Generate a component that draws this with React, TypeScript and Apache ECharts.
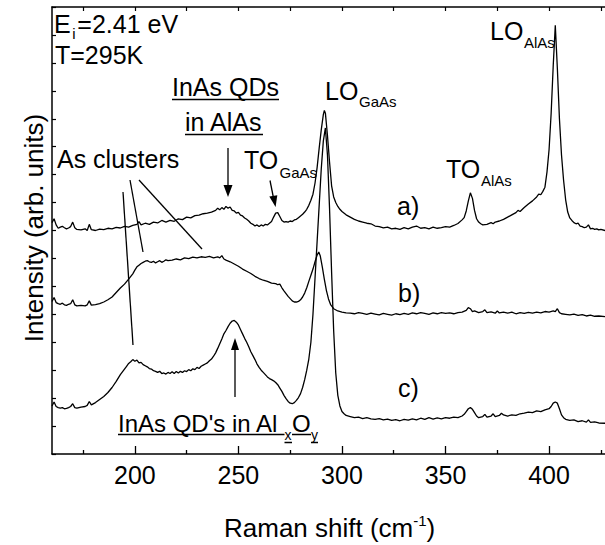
import React, { useEffect, useRef } from "react";
import * as echarts from "echarts";

// Raman spectra (x: Raman shift in cm^-1, y: offset intensity, arb. units)
const spectrumA: number[][] = [
  [160, 8.28], [161, 8.42], [162, 8.2], [163, 8.08], [164, 8.12], [165, 8.15], [166, 8.1], [167, 8.06], [168, 8.09], [169, 8.14],
  [170, 8.3], [171, 8.1], [172, 8.04], [174, 8.02], [176, 8.06], [177, 8.0], [178, 8.22], [179, 8.03], [181, 8.0], [183, 8.05],
  [185, 8.03], [187, 8.08], [189, 8.06], [191, 8.11], [193, 8.09], [195, 8.15], [197, 8.12], [199, 8.18], [201, 8.22], [202, 8.32],
  [203, 8.2], [205, 8.26], [207, 8.22], [209, 8.3], [211, 8.27], [213, 8.36], [215, 8.3], [217, 8.36], [219, 8.33], [221, 8.42],
  [223, 8.39], [225, 8.48], [227, 8.45], [229, 8.53], [231, 8.55], [233, 8.6], [235, 8.62], [237, 8.66], [239, 8.72], [240, 8.8],
  [241, 8.74], [242, 8.82], [243, 8.76], [244, 8.86], [245, 8.8], [246, 8.84], [247, 8.72], [248, 8.7], [249, 8.62], [250, 8.65],
  [251, 8.55], [252, 8.52], [253, 8.45], [254, 8.4], [255, 8.34], [256, 8.26], [257, 8.22], [258, 8.16], [259, 8.2], [260, 8.14],
  [261, 8.2], [262, 8.16], [263, 8.22], [264, 8.2], [265, 8.26], [266, 8.32], [267, 8.48], [268, 8.62], [269, 8.64], [270, 8.5],
  [271, 8.36], [272, 8.3], [273, 8.32], [274, 8.3], [275, 8.34], [276, 8.32], [277, 8.38], [278, 8.4], [279, 8.46], [280, 8.52],
  [281, 8.58], [282, 8.66], [283, 8.76], [284, 8.9], [285, 9.08], [286, 9.3], [287, 9.7], [288, 10.25], [289, 10.95], [290, 11.6],
  [291, 12.15], [291.5, 12.3], [292, 12.2], [293, 11.4], [294, 10.45], [295, 9.6], [296, 9.2], [297, 9.0], [298, 8.86], [299, 8.76],
  [300, 8.68], [302, 8.56], [304, 8.48], [306, 8.4], [308, 8.34], [310, 8.3], [312, 8.26], [314, 8.24], [316, 8.16], [318, 8.14],
  [320, 8.09], [322, 8.12], [324, 8.06], [326, 8.08], [328, 8.04], [330, 8.1], [332, 8.06], [334, 8.12], [336, 8.16], [338, 8.08],
  [340, 8.1], [342, 8.06], [344, 8.12], [346, 8.08], [348, 8.1], [350, 8.14], [352, 8.12], [354, 8.18], [356, 8.25], [358, 8.38],
  [359, 8.46], [360, 8.7], [361, 9.05], [362, 9.35], [363, 9.15], [364, 8.72], [365, 8.42], [366, 8.3], [367, 8.24], [368, 8.2],
  [370, 8.22], [372, 8.28], [373, 8.24], [374, 8.3], [376, 8.34], [378, 8.4], [380, 8.48], [382, 8.56], [384, 8.64], [385, 8.72],
  [386, 8.68], [388, 8.82], [390, 8.95], [392, 9.06], [394, 9.2], [395, 9.3], [396, 9.28], [397, 9.4], [398, 9.55], [399, 10.1],
  [400, 10.9], [401, 12.2], [402, 13.9], [403, 15.35], [404, 13.8], [405, 12.0], [406, 10.7], [407, 9.8], [408, 9.1], [409, 8.66],
  [410, 8.45], [411, 8.36], [412, 8.28], [413, 8.24], [414, 8.26], [415, 8.16], [416, 8.14], [417, 8.1], [418, 8.12], [419, 8.2],
  [420, 8.06], [421, 8.08], [422, 8.04], [423, 8.06], [424, 8.02], [425, 8.04], [427, 8.0],
];

const spectrumB: number[][] = [
  [160, 5.46], [161, 5.6], [162, 5.42], [163, 5.38], [164, 5.36], [165, 5.4], [166, 5.34], [167, 5.32], [168, 5.36], [169, 5.38],
  [170, 5.52], [171, 5.34], [172, 5.3], [174, 5.32], [176, 5.3], [177, 5.34], [178, 5.48], [179, 5.33], [181, 5.35], [183, 5.38],
  [185, 5.44], [187, 5.52], [189, 5.62], [191, 5.78], [193, 5.94], [195, 6.08], [197, 6.26], [199, 6.45], [200, 6.58], [201, 6.7],
  [202, 6.76], [203, 6.82], [204, 6.86], [205, 6.9], [206, 6.92], [207, 6.88], [208, 6.86], [209, 6.9], [210, 6.84], [211, 6.88],
  [212, 6.92], [213, 6.86], [214, 6.9], [215, 6.95], [216, 6.92], [218, 6.94], [220, 6.98], [222, 6.95], [224, 7.02], [226, 6.99],
  [228, 7.05], [230, 7.02], [232, 7.06], [234, 7.04], [236, 7.07], [238, 7.02], [240, 7.06], [241, 7.02], [242, 7.1], [243, 6.98],
  [244, 6.94], [246, 6.88], [248, 6.8], [250, 6.72], [252, 6.62], [254, 6.54], [256, 6.46], [258, 6.36], [260, 6.28], [262, 6.22],
  [264, 6.18], [266, 6.12], [268, 6.1], [269, 6.06], [270, 6.08], [271, 5.95], [272, 5.84], [273, 5.74], [274, 5.64], [275, 5.56],
  [276, 5.48], [277, 5.44], [278, 5.44], [279, 5.46], [280, 5.52], [281, 5.62], [282, 5.76], [283, 5.95], [284, 6.18], [285, 6.4],
  [286, 6.62], [287, 6.88], [288, 7.12], [288.8, 7.23], [289.5, 7.1], [290.5, 6.7], [291.5, 6.25], [292.5, 5.85], [293.5, 5.55], [294.5, 5.35],
  [296, 5.2], [298, 5.12], [300, 5.08], [302, 5.05], [304, 5.04], [306, 5.02], [308, 5.06], [310, 5.03], [312, 5.0], [314, 5.04],
  [316, 5.01], [318, 4.98], [320, 5.03], [322, 5.0], [324, 4.97], [326, 5.02], [328, 4.99], [330, 5.03], [332, 5.0], [334, 5.05],
  [336, 5.02], [338, 5.06], [340, 5.03], [342, 5.0], [344, 5.05], [346, 5.02], [348, 5.06], [350, 5.03], [352, 5.05], [354, 5.02],
  [356, 5.06], [358, 5.08], [360, 5.14], [361, 5.24], [362, 5.2], [363, 5.1], [364, 5.12], [366, 5.06], [368, 5.1], [369, 5.16],
  [370, 5.06], [372, 5.09], [374, 5.04], [375, 5.12], [376, 5.05], [378, 5.08], [380, 5.04], [382, 5.08], [384, 5.02], [386, 5.06],
  [388, 5.03], [390, 5.07], [392, 5.04], [394, 5.08], [396, 5.05], [398, 5.1], [400, 5.08], [402, 5.12], [403, 5.1], [404, 5.2],
  [405, 5.06], [406, 5.02], [408, 5.0], [410, 4.98], [412, 5.01], [414, 4.96], [416, 4.99], [418, 4.94], [420, 4.97], [422, 4.93],
  [424, 4.94], [427, 4.92],
];

const spectrumC: number[][] = [
  [160, 1.72], [161, 1.86], [162, 1.7], [163, 1.66], [164, 1.64], [165, 1.66], [166, 1.62], [167, 1.63], [168, 1.66], [169, 1.7],
  [170, 1.8], [171, 1.66], [172, 1.64], [174, 1.68], [176, 1.7], [177, 1.74], [178, 1.88], [179, 1.76], [181, 1.84], [183, 1.95],
  [185, 2.06], [187, 2.2], [189, 2.38], [191, 2.6], [193, 2.84], [195, 3.04], [196, 3.14], [197, 3.24], [198, 3.3], [199, 3.38],
  [200, 3.32], [201, 3.36], [202, 3.26], [203, 3.28], [204, 3.2], [205, 3.16], [206, 3.12], [207, 3.06], [208, 3.04], [209, 2.98],
  [210, 2.96], [211, 2.92], [212, 2.96], [213, 2.88], [214, 2.9], [215, 2.86], [216, 2.92], [217, 2.88], [218, 2.94], [219, 2.88],
  [220, 2.95], [221, 2.9], [222, 2.96], [223, 2.92], [224, 2.98], [225, 2.95], [226, 3.02], [227, 2.98], [228, 3.05], [229, 3.02],
  [230, 3.1], [231, 3.06], [232, 3.14], [233, 3.18], [234, 3.22], [235, 3.26], [236, 3.34], [237, 3.4], [238, 3.5], [239, 3.62],
  [240, 3.78], [241, 3.95], [242, 4.12], [243, 4.3], [244, 4.42], [245, 4.56], [246, 4.68], [247, 4.76], [248, 4.78], [249, 4.72],
  [250, 4.62], [251, 4.46], [252, 4.3], [253, 4.14], [254, 4.0], [255, 3.84], [256, 3.66], [257, 3.52], [258, 3.38], [259, 3.22],
  [260, 3.1], [261, 3.0], [262, 2.92], [263, 2.84], [264, 2.76], [265, 2.7], [266, 2.66], [267, 2.62], [268, 2.56], [269, 2.48],
  [270, 2.36], [271, 2.24], [272, 2.1], [273, 1.98], [274, 1.88], [275, 1.82], [276, 1.8], [277, 1.84], [278, 1.92], [279, 2.02],
  [280, 2.16], [281, 2.38], [282, 2.66], [283, 3.0], [284, 3.4], [285, 4.0], [286, 5.0], [287, 6.3], [288, 7.6], [289, 8.9],
  [290, 10.2], [291, 11.2], [292, 11.67], [293, 10.7], [294, 8.8], [295, 6.5], [296, 4.4], [297, 2.9], [298, 2.1], [299, 1.72],
  [300, 1.52], [301, 1.44], [302, 1.38], [304, 1.34], [306, 1.3], [308, 1.32], [310, 1.27], [312, 1.3], [314, 1.26], [316, 1.24],
  [318, 1.27], [320, 1.22], [322, 1.25], [324, 1.2], [326, 1.23], [328, 1.19], [330, 1.24], [332, 1.21], [334, 1.26], [336, 1.22],
  [338, 1.28], [340, 1.24], [342, 1.3], [344, 1.25], [346, 1.29], [348, 1.26], [350, 1.3], [352, 1.28], [354, 1.32], [356, 1.3],
  [358, 1.36], [359, 1.42], [360, 1.52], [361, 1.62], [362, 1.66], [363, 1.6], [364, 1.48], [365, 1.36], [366, 1.3], [368, 1.34],
  [369, 1.42], [370, 1.32], [372, 1.36], [373, 1.44], [374, 1.34], [376, 1.38], [377, 1.46], [378, 1.4], [380, 1.36], [382, 1.4],
  [384, 1.38], [386, 1.44], [388, 1.46], [390, 1.5], [392, 1.48], [394, 1.54], [396, 1.52], [398, 1.58], [400, 1.62], [401, 1.7],
  [402, 1.82], [403, 1.86], [404, 1.82], [405, 1.62], [406, 1.4], [407, 1.3], [408, 1.24], [410, 1.2], [412, 1.22], [414, 1.16],
  [416, 1.19], [418, 1.14], [419, 1.22], [420, 1.13], [422, 1.15], [424, 1.11], [427, 1.1],
];

const majorTicks = [200, 250, 300, 350, 400];
const minorTicks = [175, 225, 275, 325, 375, 425];
const topTicks = [175, 200, 225, 250, 275, 300, 325, 350, 375, 400, 425];

const FONT = "'Liberation Sans', Arial, Helvetica, sans-serif";

function txt(text: string, x: number, baseline: number, fs: number, align = "left", rotation = 0, lineHeight?: number) {
  const style: any = {
    text,
    fontSize: fs,
    fontFamily: FONT,
    fill: "#000",
    align,
    textAlign: align,
    verticalAlign: "middle",
    textVerticalAlign: "middle",
  };
  if (lineHeight) style.lineHeight = lineHeight;
  return {
    type: "text",
    x,
    y: baseline - 0.3465 * fs,
    rotation,
    silent: true,
    style,
  };
}

// main text with a lowered subscript, drawn as one rich text
function richSub(text: string, x: number, baseline: number) {
  return {
    type: "text",
    x,
    y: baseline - 25.66,
    silent: true,
    style: {
      text,
      fontSize: 25,
      fontFamily: FONT,
      fill: "#000",
      align: "left",
      textAlign: "left",
      verticalAlign: "top",
      textVerticalAlign: "top",
      rich: {
        m: { fontSize: 25, fontFamily: FONT, fill: "#000", lineHeight: 34, verticalAlign: "middle" },
        s: { fontSize: 15, fontFamily: FONT, fill: "#000", lineHeight: 15, verticalAlign: "bottom" },
        h: { fontSize: 6, fontFamily: FONT, fill: "#000", lineHeight: 6, verticalAlign: "top" },
      },
    },
  };
}

function seg(x1: number, y1: number, x2: number, y2: number, w = 1.3) {
  return { type: "line", silent: true, shape: { x1, y1, x2, y2 }, style: { stroke: "#000", lineWidth: w } };
}

function head(points: number[][]) {
  return { type: "polygon", silent: true, shape: { points }, style: { fill: "#000" } };
}

export default function App() {
  const ref = useRef<HTMLDivElement>(null);
  useEffect(() => {
    if (!ref.current) return;
    const chart = echarts.init(ref.current, null, { renderer: "svg" });
    const axisLine = { show: true, onZero: false, lineStyle: { color: "#000", width: 1.5 } };
    const yTitle: any = txt("Intensity (arb. units)", 34, 228, 26, "center", Math.PI / 2);
    yTitle.x = 34;
    yTitle.y = 228;
    const graphics: any[] = [
      // top-left text
      richSub("{m|E}{h| }{s|i}{h| }{m|=2.41 eV}", 54, 33),
      txt("T=295K", 55, 63.5, 25, "left", 0, 18),
      // InAs QDs in AlAs
      txt("InAs QDs", 172, 96, 25),
      seg(172, 99.5, 279, 99.5, 1.5),
      txt("in AlAs", 185, 131, 25),
      seg(185, 134.5, 263, 134.5, 1.5),
      seg(228, 148, 228, 188),
      head([[223.5, 185], [232.5, 185], [228, 197]]),
      // As clusters
      txt("As clusters", 57, 168, 25),
      seg(130, 180, 143, 252),
      seg(139, 180, 202, 249),
      seg(123, 192, 133, 345),
      // TO GaAs
      txt("TO", 244, 169, 25),
      txt("GaAs", 279.5, 178, 15),
      seg(270, 180.5, 273.3, 197),
      head([[269.3, 196.6], [277.3, 195.3], [275.6, 207]]),
      // LO GaAs
      txt("LO", 325, 100, 25),
      txt("GaAs", 359, 107, 15),
      // LO AlAs
      txt("LO", 490, 40, 25),
      txt("AlAs", 524, 48, 15),
      // TO AlAs
      txt("TO", 446, 178, 25),
      txt("AlAs", 481, 186, 15),
      // curve labels
      txt("a)", 397, 215, 25),
      txt("b)", 398, 302, 25),
      txt("c)", 398, 397, 25),
      // InAs QD's in AlxOy
      txt("InAs QD's in Al", 118, 432, 24),
      txt("x", 284.5, 440, 14),
      txt("O", 292, 432, 24),
      txt("y", 311, 440, 14),
      seg(118, 434.5, 284.5, 434.5, 1.5),
      seg(284.5, 442.5, 292, 442.5, 1.5),
      seg(292, 434.5, 311, 434.5, 1.5),
      seg(311, 442.5, 318, 442.5, 1.5),
      seg(235, 397, 235, 348),
      head([[231, 350], [239, 350], [235, 338]]),
      // axis titles
      txt("Raman shift (cm", 224, 537, 26),
      txt("-1", 413.3, 526, 15),
      txt(")", 426.6, 537, 26),
      yTitle,
    ];

    const mk = (data: number[][]) => ({
      type: "line",
      data,
      showSymbol: false,
      symbol: "none",
      xAxisIndex: 0,
      yAxisIndex: 0,
      lineStyle: { color: "#000", width: 1.3 },
      silent: true,
    });

    chart.setOption({
      animation: false,
      backgroundColor: "#fff",
      grid: { left: 52, top: 7, width: 554, height: 447, containLabel: false },
      xAxis: [
        {
          type: "value", min: 160, max: 427, position: "bottom",
          axisLine,
          axisTick: { show: true, inside: true, length: 8, customValues: majorTicks, lineStyle: { color: "#000", width: 1.3 } },
          axisLabel: { show: true, customValues: majorTicks, fontSize: 25, fontFamily: FONT, color: "#000", margin: 8 },
          splitLine: { show: false },
        },
        {
          type: "value", min: 160, max: 427, position: "bottom",
          axisLine: { show: false },
          axisTick: { show: true, inside: true, length: 4, customValues: minorTicks, lineStyle: { color: "#000", width: 1.3 } },
          axisLabel: { show: false },
          splitLine: { show: false },
        },
        {
          type: "value", min: 160, max: 427, position: "top",
          axisLine,
          axisTick: { show: true, inside: true, length: 4, customValues: topTicks, lineStyle: { color: "#000", width: 1.2 } },
          axisLabel: { show: false },
          splitLine: { show: false },
        },
      ],
      yAxis: [
        {
          type: "value", min: 0, max: 16, interval: 1, position: "left",
          axisLine,
          axisTick: { show: true, inside: true, length: 4, lineStyle: { color: "#000", width: 1.2 } },
          axisLabel: { show: false },
          splitLine: { show: false },
        },
      ],
      series: [mk(spectrumA), mk(spectrumB), mk(spectrumC)],
      graphic: { elements: graphics },
    });
    return () => chart.dispose();
  }, []);
  return <div ref={ref} style={{ position: "absolute", left: 0, top: 0, width: 605, height: 545 }} />;
}
